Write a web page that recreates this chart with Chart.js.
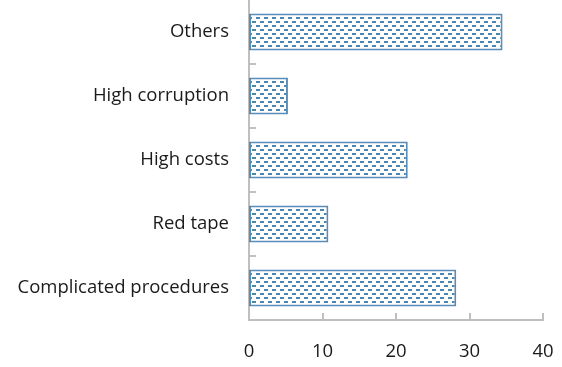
<!DOCTYPE html>
<html>
<head>
<meta charset="utf-8">
<script src="https://cdn.jsdelivr.net/npm/chart.js@4.4.1/dist/chart.umd.min.js"></script>
<style>
  html, body { margin: 0; padding: 0; background: #ffffff; }
  #wrap { width: 562px; height: 367px; position: relative; }
</style>
</head>
<body>
<div id="wrap"><canvas id="chart" width="562" height="367"></canvas></div>
<script>
// Obstacles reported, share of respondents
const categories = ['Complicated procedures', 'Red tape', 'High costs', 'High corruption', 'Others'];
const values = [28.2, 10.8, 21.6, 5.3, 34.5];
const xTicks = [0, 10, 20, 30, 40];

const BLUE = '#4a86b0';
const EDGE = '#5a8cb8';
const AXIS = '#bfbfbf';
const FONT = { family: 'Open Sans', size: 18.5 };

// Dashed fill: staggered rows of short dashes
function dashPattern() {
  const c = document.createElement('canvas');
  c.width = 8; c.height = 8;
  const g = c.getContext('2d');
  g.fillStyle = '#ffffff';
  g.fillRect(0, 0, 8, 8);
  g.fillStyle = BLUE;
  g.fillRect(0, 1, 4, 2);
  g.fillRect(4, 5, 4, 2);
  return g.createPattern(c, 'repeat');
}

// Short tick marks drawn inward from both axes
const inwardTicks = {
  id: 'inwardTicks',
  afterDatasetsDraw(chart) {
    const ctx = chart.ctx;
    const x = chart.scales.x, y = chart.scales.y;
    ctx.save();
    ctx.strokeStyle = AXIS;
    ctx.lineWidth = 2;
    ctx.beginPath();
    for (let i = 0; i < categories.length - 1; i++) {
      const p = (y.getPixelForValue(i) + y.getPixelForValue(i + 1)) / 2;
      ctx.moveTo(x.left, Math.round(p));
      ctx.lineTo(x.left + 7, Math.round(p));
    }
    xTicks.slice(1).forEach(v => {
      const p = Math.round(x.getPixelForValue(v));
      ctx.moveTo(p, y.bottom);
      ctx.lineTo(p, y.bottom - 7);
    });
    ctx.stroke();
    ctx.restore();
  }
};

new Chart(document.getElementById('chart'), {
  type: 'bar',
  data: {
    labels: categories,
    datasets: [{
      data: values,
      backgroundColor: dashPattern(),
      borderColor: EDGE,
      borderWidth: 2,
      borderSkipped: false,
      barPercentage: 0.58,
      categoryPercentage: 1
    }]
  },
  options: {
    indexAxis: 'y',
    responsive: false,
    animation: false,
    layout: { padding: { top: 0, right: 19, bottom: 0, left: 0 } },
    plugins: { legend: { display: false }, tooltip: { enabled: false } },
    scales: {
      x: {
        min: 0, max: 40,
        afterBuildTicks(s) { s.ticks = xTicks.map(v => ({ value: v })); },
        afterFit(s) { s.height = 47; s.paddingLeft = 0; s.paddingRight = 0; },
        grid: { display: false, drawTicks: false },
        border: { display: true, color: AXIS, width: 2 },
        ticks: { color: '#1a1a1a', font: FONT, padding: 21 }
      },
      y: {
        reverse: true,
        afterFit(s) { s.width = 249; s.paddingTop = 0; s.paddingBottom = 0; },
        grid: { display: false, drawTicks: false },
        border: { display: true, color: AXIS, width: 2 },
        ticks: { color: '#1a1a1a', font: FONT, padding: 20 }
      }
    }
  },
  plugins: [inwardTicks]
});
</script>
</body>
</html>
